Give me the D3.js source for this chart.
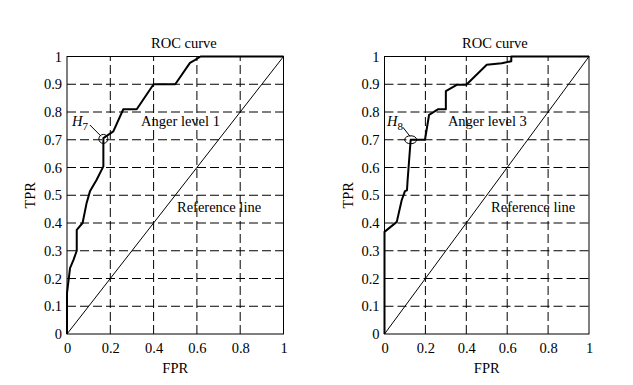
<!DOCTYPE html>
<html>
<head>
<meta charset="utf-8">
<script src="https://cdn.jsdelivr.net/npm/d3@7"></script>
<style>
    body { margin: 0; background: #fff; }
    svg text { font-family: "Liberation Serif", "Times New Roman", serif; fill: #000; }
</style>
</head>
<body>
<div id="chart"></div>
<script>
// ROC curves
var level1FPR = [0, 0, 0.014, 0.03, 0.045, 0.045, 0.072, 0.09, 0.106, 0.137, 0.168, 0.168, 0.214, 0.26, 0.322, 0.40, 0.50, 0.568, 0.59, 0.617, 1];
var level1TPR = [0, 0.147, 0.237, 0.267, 0.30, 0.375, 0.40, 0.47, 0.514, 0.556, 0.604, 0.706, 0.73, 0.81, 0.81, 0.90, 0.90, 0.977, 0.987, 1, 1];

var level3FPR = [0, 0, 0.06, 0.084, 0.10, 0.11, 0.113, 0.128, 0.198, 0.218, 0.263, 0.30, 0.30, 0.353, 0.40, 0.50, 0.573, 0.62, 0.62, 1];
var level3TPR = [0, 0.368, 0.404, 0.482, 0.515, 0.518, 0.554, 0.70, 0.70, 0.79, 0.81, 0.81, 0.875, 0.898, 0.898, 0.97, 0.976, 0.983, 1, 1];

var refLine = [0, 1];
var xTicks = [0, 0.2, 0.4, 0.6, 0.8, 1];
var yTicks = [0, 0.1, 0.2, 0.3, 0.4, 0.5, 0.6, 0.7, 0.8, 0.9, 1];
var xTickLabels = ['0', '0.2', '0.4', '0.6', '0.8', '1'];
var yTickLabels = ['0', '0.1', '0.2', '0.3', '0.4', '0.5', '0.6', '0.7', '0.8', '0.9', '1'];

var width = 633;
var height = 385;
var fontSize = 14.5;

var svg = d3.select('#chart')
    .append('svg')
    .attr('width', width)
    .attr('height', height);

// one panel: range in pixels, data, label texts
function drawPanel(opt) {
    var xScale = d3.scaleLinear().domain([0, 1]).range([opt.left, opt.right]);
    var yScale = d3.scaleLinear().domain([0, 1]).range([334, 56.5]);
    var g = svg.append('g');

    // dashed grid
    g.append('g')
        .selectAll('line')
        .data(xTicks.slice(1, -1))
        .enter()
        .append('line')
        .attr('x1', function (d) { return xScale(d); })
        .attr('x2', function (d) { return xScale(d); })
        .attr('y1', yScale(0))
        .attr('y2', yScale(1))
        .attr('stroke', '#000')
        .attr('stroke-width', 1)
        .attr('stroke-dasharray', '9,4');
    g.append('g')
        .selectAll('line')
        .data(yTicks.slice(1, -1))
        .enter()
        .append('line')
        .attr('x1', xScale(0))
        .attr('x2', xScale(1))
        .attr('y1', function (d) { return yScale(d); })
        .attr('y2', function (d) { return yScale(d); })
        .attr('stroke', '#000')
        .attr('stroke-width', 1)
        .attr('stroke-dasharray', '9,4');

    // frame
    g.append('rect')
        .attr('x', xScale(0))
        .attr('y', yScale(1))
        .attr('width', xScale(1) - xScale(0))
        .attr('height', yScale(0) - yScale(1))
        .attr('fill', 'none')
        .attr('stroke', '#000')
        .attr('stroke-width', 1);

    // axes
    var xAxis = d3.axisBottom(xScale)
        .tickValues(xTicks)
        .tickSize(0)
        .tickPadding(9)
        .tickFormat(function (d, i) { return xTickLabels[i]; });
    var yAxis = d3.axisLeft(yScale)
        .tickValues(yTicks)
        .tickSize(0)
        .tickPadding(5)
        .tickFormat(function (d, i) { return yTickLabels[i]; });
    var ax = g.append('g')
        .attr('transform', 'translate(0,' + yScale(0) + ')')
        .call(xAxis);
    var ay = g.append('g')
        .attr('transform', 'translate(' + xScale(0) + ',0)')
        .call(yAxis);
    [ax, ay].forEach(function (a) {
        a.select('.domain').remove();
        a.selectAll('text')
            .style('font-family', '"Liberation Serif", serif')
            .style('font-size', fontSize + 'px')
            .attr('fill', '#000');
    });

    // reference line
    var line = d3.line()
        .x(function (d) { return xScale(d[0]); })
        .y(function (d) { return yScale(d[1]); });
    g.append('path')
        .attr('d', line(refLine.map(function (v) { return [v, v]; })))
        .attr('fill', 'none')
        .attr('stroke', '#000')
        .attr('stroke-width', 1);

    // ROC curve
    var pts = opt.fpr.map(function (v, i) { return [v, opt.tpr[i]]; });
    g.append('path')
        .attr('d', line(pts))
        .attr('fill', 'none')
        .attr('stroke', '#000')
        .attr('stroke-width', 2)
        .attr('stroke-linejoin', 'round');

    // marker and H label
    g.append('ellipse')
        .attr('cx', xScale(opt.mark[0]))
        .attr('cy', yScale(opt.mark[1]))
        .attr('rx', opt.markR[0])
        .attr('ry', opt.markR[1])
        .attr('fill', 'none')
        .attr('stroke', '#000')
        .attr('stroke-width', 1);
    g.append('line')
        .attr('x1', xScale(opt.leader[0]))
        .attr('y1', yScale(opt.leader[1]))
        .attr('x2', xScale(opt.leader[2]))
        .attr('y2', yScale(opt.leader[3]))
        .attr('stroke', '#000')
        .attr('stroke-width', 1);
    var h = g.append('text')
        .attr('x', xScale(opt.hPos[0]))
        .attr('y', yScale(opt.hPos[1]))
        .style('font-size', fontSize + 'px');
    h.append('tspan').style('font-style', 'italic').text('H');
    h.append('tspan')
        .attr('dy', 4)
        .style('font-size', '11px')
        .text(opt.hSub);

    // texts
    g.append('text')
        .attr('x', xScale(0.54))
        .attr('y', 48)
        .attr('text-anchor', 'middle')
        .style('font-size', fontSize + 'px')
        .text('ROC curve');
    g.append('text')
        .attr('x', xScale(opt.angerPos[0]))
        .attr('y', yScale(opt.angerPos[1]))
        .style('font-size', fontSize + 'px')
        .text(opt.anger);
    g.append('text')
        .attr('x', xScale(opt.refPos[0]))
        .attr('y', yScale(opt.refPos[1]))
        .style('font-size', fontSize + 'px')
        .text('Reference line');
    g.append('text')
        .attr('x', xScale(0.5))
        .attr('y', 373)
        .attr('text-anchor', 'middle')
        .style('font-size', fontSize + 'px')
        .text('FPR');
    g.append('text')
        .attr('transform', 'translate(' + (opt.left - 32) + ',' + yScale(0.5) + ') rotate(-90)')
        .attr('text-anchor', 'middle')
        .style('font-size', fontSize + 'px')
        .text('TPR');
}

drawPanel({
    left: 67, right: 283.5,
    fpr: level1FPR, tpr: level1TPR,
    mark: [0.168, 0.703], markR: [4.5, 4.5],
    leader: [0.106, 0.753, 0.157, 0.713],
    hPos: [0.023, 0.75], hSub: '7',
    anger: 'Anger level 1', angerPos: [0.342, 0.75],
    refPos: [0.508, 0.44]
});

drawPanel({
    left: 384.5, right: 589,
    fpr: level3FPR, tpr: level3TPR,
    mark: [0.128, 0.70], markR: [6, 4],
    leader: [0.09, 0.745, 0.125, 0.712],
    hPos: [0.012, 0.75], hSub: '8',
    anger: 'Anger level 3', angerPos: [0.31, 0.75],
    refPos: [0.521, 0.44]
});
</script>
</body>
</html>
